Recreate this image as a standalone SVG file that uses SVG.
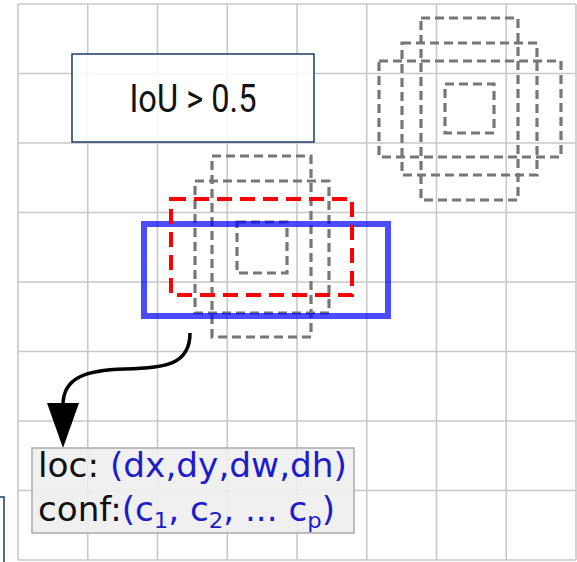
<svg xmlns="http://www.w3.org/2000/svg" width="577" height="562" viewBox="0 0 577 562">
<defs>
<style>
.grid line{stroke:#c8c8c8;stroke-width:1.6}
.gd{fill:none;stroke:#777;stroke-width:3.2;stroke-dasharray:9 5}
.lbl{font-family:"DejaVu Sans",Verdana,sans-serif;font-size:33px}
.blk{fill:#111}
.blu{fill:#1c1ccc}
</style>
</defs>
<rect width="577" height="562" fill="#fff"/>
<g class="grid">
<line x1="18" y1="4" x2="18" y2="560"/>
<line x1="87.75" y1="4" x2="87.75" y2="560"/>
<line x1="157.5" y1="4" x2="157.5" y2="560"/>
<line x1="227.25" y1="4" x2="227.25" y2="560"/>
<line x1="297" y1="4" x2="297" y2="560"/>
<line x1="366.75" y1="4" x2="366.75" y2="560"/>
<line x1="436.5" y1="4" x2="436.5" y2="560"/>
<line x1="506.25" y1="4" x2="506.25" y2="560"/>
<line x1="576" y1="4" x2="576" y2="560"/>
<line x1="18" y1="4" x2="576" y2="4"/>
<line x1="18" y1="73.5" x2="576" y2="73.5"/>
<line x1="18" y1="143" x2="576" y2="143"/>
<line x1="18" y1="212.5" x2="576" y2="212.5"/>
<line x1="18" y1="282" x2="576" y2="282"/>
<line x1="18" y1="351.5" x2="576" y2="351.5"/>
<line x1="18" y1="421" x2="576" y2="421"/>
<line x1="18" y1="490.5" x2="576" y2="490.5"/>
<line x1="18" y1="560" x2="576" y2="560"/>
</g>
<g id="edge-box">
<rect x="-10" y="497" width="14" height="80" fill="none" stroke="#1a3a6a" stroke-width="1.5"/>
</g>
<g id="anchors-right">
<rect class="gd" x="421" y="18" width="97" height="182"/>
<rect class="gd" x="402" y="43" width="135" height="132"/>
<rect class="gd" x="379" y="61" width="182" height="96"/>
<rect class="gd" x="445" y="84" width="49" height="49"/>
</g>
<g id="anchors-mid">
<rect class="gd" x="212" y="156" width="99" height="181"/>
<rect class="gd" x="195" y="181" width="134" height="132"/>
<rect class="gd" x="237" y="222" width="50" height="51"/>
</g>
<g id="gt-box">
<rect x="144" y="224" width="244" height="92" fill="none" stroke="#0000ff" stroke-opacity="0.7" stroke-width="6"/>
</g>
<g id="match-box">
<rect x="171" y="199" width="181" height="96" fill="none" stroke="#ff0000" stroke-width="4" stroke-dasharray="15 8"/>
</g>
<g id="iou">
<rect x="72" y="54" width="242" height="88" fill="#fff" fill-opacity="0.85" stroke="#1a3a6a" stroke-width="1.5"/>
<text x="193" y="112" text-anchor="middle" font-family="Roboto,'Liberation Sans',sans-serif" font-size="38" fill="#111" textLength="127" lengthAdjust="spacingAndGlyphs">IoU &gt; 0.5</text>
</g>
<g id="connectors">
<path d="M190,333 C190,365 165,368 125,369 C85,370 63,378 63,405" fill="none" stroke="#000" stroke-width="3.5"/>
<polygon points="47,403 79,403 63,448" fill="#000"/>
</g>
<g id="output">
<rect x="32" y="448" width="322" height="85" fill="#eeeeee" fill-opacity="0.88" stroke="#aaaaaa" stroke-width="1.5"/>
<text class="lbl" x="38" y="477" textLength="309" lengthAdjust="spacingAndGlyphs"><tspan class="blk">loc: </tspan><tspan class="blu">(dx,dy,dw,dh)</tspan></text>
<text class="lbl" x="38" y="521" textLength="297" lengthAdjust="spacingAndGlyphs"><tspan class="blk">conf:</tspan><tspan class="blu">(c</tspan><tspan class="blu" font-size="22" dy="7">1</tspan><tspan class="blu" dy="-7">, c</tspan><tspan class="blu" font-size="22" dy="7">2</tspan><tspan class="blu" dy="-7">, ... c</tspan><tspan class="blu" font-size="22" dy="7">p</tspan><tspan class="blu" dy="-7">)</tspan></text>
</g>
</svg>
